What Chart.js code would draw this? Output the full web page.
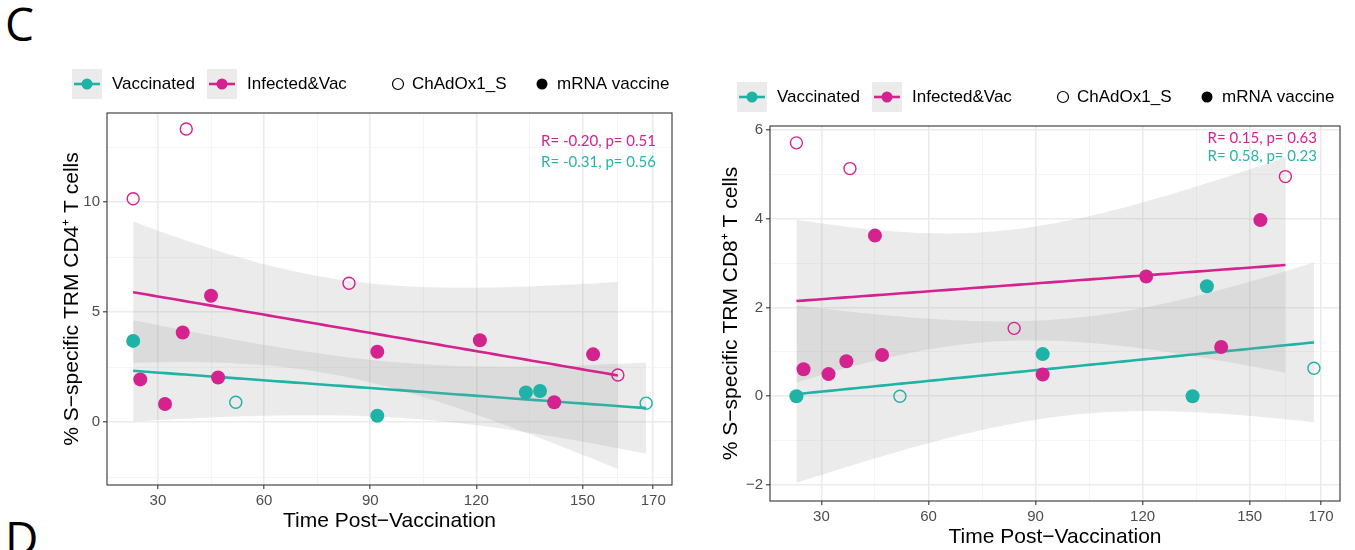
<!DOCTYPE html>
<html lang="en">
<head>
<meta charset="utf-8">
<title>S-specific TRM T cells vs time post-vaccination</title>
<script src="https://cdn.jsdelivr.net/npm/chart.js@4.4.1/dist/chart.umd.min.js"></script>
<style>
  body { margin: 0; background: #fff; width: 1355px; height: 550px; overflow: hidden; position: relative; }
  .letter { position: absolute; left: 5px; font: 46px "Open Sans", sans-serif; line-height: 1; color: #000; }
  canvas { position: absolute; top: 0; }
</style>
</head>
<body>
<div class="letter" style="top:0">C</div>
<div class="letter" style="top:514px">D</div>
<canvas id="cd4" width="690" height="550" style="left:0"></canvas>
<canvas id="cd8" width="665" height="560" style="left:690px"></canvas>
<script>
// values
const xBreaks = [30, 60, 90, 120, 150, 170];
const xMinor = [45, 75, 105, 135, 160];
const cd4Breaks = [0, 5, 10];
const cd4Minor = [-2.5, 2.5, 7.5, 12.5];
const cd8Breaks = [-2, 0, 2, 4, 6];
const cd8Minor = [-1, 1, 3, 5];

const vacDays = [23, 52, 92, 134, 138, 168];
const vacVaccine = ['mRNA', 'ChAdOx1_S', 'mRNA', 'mRNA', 'mRNA', 'ChAdOx1_S'];
const infDays = [23, 25, 32, 37, 38, 45, 47, 84, 92, 121, 142, 153, 160];
const infVaccine = ['ChAdOx1_S', 'mRNA', 'mRNA', 'mRNA', 'ChAdOx1_S', 'mRNA', 'mRNA',
                    'ChAdOx1_S', 'mRNA', 'mRNA', 'mRNA', 'mRNA', 'ChAdOx1_S'];

const cd4Vac = [3.69, 0.90, 0.29, 1.35, 1.41, 0.86];
const cd4Inf = [10.15, 1.94, 0.82, 4.07, 13.32, 5.74, 2.03, 6.31, 3.20, 3.72, 0.90, 3.08, 2.14];
const cd8Vac = [0.00, 0.00, 0.95, 0.00, 2.48, 0.63];
const cd8Inf = [5.71, 0.61, 0.50, 0.79, 5.13, 3.62, 0.93, 1.53, 0.49, 2.70, 1.11, 3.97, 4.95];

const cd4Stats = ['R= -0.20, p= 0.51', 'R= -0.31, p= 0.56'];
const cd8Stats = ['R= 0.15, p= 0.63', 'R= 0.58, p= 0.23'];

const groupNames = ['Vaccinated', 'Infected&Vac'];
const vaccineNames = ['ChAdOx1_S', 'mRNA vaccine'];

const TEAL = '#1fb2a6';
const MAGENTA = '#d4228f';
const BAND = 'rgba(153,153,153,0.2)';
const FONT = '"Liberation Sans", Arial, sans-serif';

// two-sided 95% t quantiles by df
const T975 = [0, 12.706, 4.303, 3.182, 2.776, 2.571, 2.447, 2.365, 2.306, 2.262, 2.228,
              2.201, 2.179, 2.160, 2.145, 2.131, 2.120, 2.110, 2.101, 2.093, 2.086];

// lm fit with 95% confidence band, like geom_smooth(method = "lm")
function smooth(xs, ys, steps) {
  const n = xs.length;
  const mx = xs.reduce((a, b) => a + b, 0) / n;
  const my = ys.reduce((a, b) => a + b, 0) / n;
  let sxx = 0, sxy = 0;
  xs.forEach((x, i) => { sxx += (x - mx) ** 2; sxy += (x - mx) * (ys[i] - my); });
  const b = sxy / sxx, a = my - b * mx;
  let sse = 0;
  xs.forEach((x, i) => { const r = ys[i] - (a + b * x); sse += r * r; });
  const s = Math.sqrt(sse / (n - 2)), t = T975[n - 2];
  const lo = Math.min(...xs), hi = Math.max(...xs);
  const fit = [], up = [], low = [];
  for (let k = 0; k < steps; k++) {
    const x = lo + (hi - lo) * k / (steps - 1);
    const y = a + b * x;
    const h = t * s * Math.sqrt(1 / n + (x - mx) ** 2 / sxx);
    fit.push({x, y}); up.push({x, y: y + h}); low.push({x, y: y - h});
  }
  return {fit, up, low};
}

function pointsOf(days, vals, vac) {
  return days.map((d, i) => ({x: d, y: vals[i], v: vac[i]}));
}

function isOpen(c) { return c.raw && c.raw.v === 'ChAdOx1_S'; }

function scatterSet(data, color) {
  return {
    type: 'scatter', data, order: 0,
    pointRadius: c => isOpen(c) ? 6 : 7,
    pointBackgroundColor: c => isOpen(c) ? 'rgba(0,0,0,0)' : color,
    pointBorderColor: color,
    pointBorderWidth: c => isOpen(c) ? 1.4 : 0
  };
}

function smoothSets(sm, color, order) {
  const base = {type: 'line', pointRadius: 0, borderWidth: 0, borderColor: 'rgba(0,0,0,0)', order};
  return [
    Object.assign({}, base, {data: sm.up}),
    Object.assign({}, base, {data: sm.low, fill: {target: '-1'}, backgroundColor: BAND}),
    {type: 'line', data: sm.fit, pointRadius: 0, borderWidth: 2.6, borderColor: color, order: order - 1}
  ];
}

// panel frame, correlation labels and the ggplot-style legend
const decor = {
  id: 'decor',
  afterDraw(chart, args, o) {
    const {ctx, chartArea: a} = chart;
    ctx.save();
    ctx.strokeStyle = '#333';
    ctx.lineWidth = 1.1;
    ctx.strokeRect(a.left, a.top, a.right - a.left, a.bottom - a.top);

    ctx.font = '15px Lato, sans-serif';
    ctx.textAlign = 'right';
    ctx.textBaseline = 'middle';
    ctx.fillStyle = MAGENTA;
    ctx.fillText(o.stats[0], a.right - o.statsRight, a.top + o.statsTop);
    ctx.fillStyle = '#2ab3a7';
    ctx.fillText(o.stats[1], a.right - o.statsRight, a.top + o.statsTop + o.statsGap);

    const x0 = o.legendX, yc = o.legendY;
    ctx.font = '17px ' + FONT;
    ctx.textAlign = 'left';
    ctx.fillStyle = '#000';
    [TEAL, MAGENTA].forEach((col, i) => {
      const kx = x0 + i * 135;
      ctx.fillStyle = '#ebebeb';
      ctx.fillRect(kx, yc - 15, 30, 30);
      ctx.strokeStyle = col;
      ctx.lineWidth = 2.6;
      ctx.beginPath(); ctx.moveTo(kx + 2, yc); ctx.lineTo(kx + 28, yc); ctx.stroke();
      ctx.fillStyle = col;
      ctx.beginPath(); ctx.arc(kx + 15, yc, 5.5, 0, Math.PI * 2); ctx.fill();
      ctx.fillStyle = '#000';
      ctx.fillText(groupNames[i], kx + 40, yc);
    });
    ctx.strokeStyle = '#000';
    ctx.lineWidth = 1.2;
    ctx.beginPath(); ctx.arc(x0 + 326, yc, 5.5, 0, Math.PI * 2); ctx.stroke();
    ctx.fillText(vaccineNames[0], x0 + 340, yc);
    ctx.beginPath(); ctx.arc(x0 + 470, yc, 5.5, 0, Math.PI * 2); ctx.fill();
    ctx.fillText(vaccineNames[1], x0 + 485, yc);
    ctx.restore();
  }
};

function axis(breaks, minor, min, max, title, fit) {
  const all = breaks.concat(minor).sort((p, q) => p - q);
  const major = c => breaks.includes(c.tick.value);
  return {
    type: 'linear', min, max,
    afterBuildTicks: s => { s.ticks = all.map(v => ({value: v})); },
    afterFit: fit,
    ticks: {
      autoSkip: false, maxRotation: 0, padding: 3, color: '#4d4d4d',
      font: {family: FONT, size: 15},
      callback: v => breaks.includes(v) ? String(v).replace('-', '\u2212') : ''
    },
    grid: {
      color: c => major(c) ? '#ebebeb' : '#f3f3f3',
      lineWidth: c => major(c) ? 1.6 : 0.8,
      tickColor: c => major(c) ? '#333' : 'rgba(0,0,0,0)',
      tickLength: 4, tickWidth: 1.1
    },
    border: {display: false},
    title: {display: true, text: title, color: '#000', font: {family: FONT, size: 21}, padding: 0}
  };
}

function makeChart(id, vacVals, infVals, yBreaks, yMinor, yMin, yMax, yTitle, lay, deco) {
  const vacSm = smooth(vacDays, vacVals, 80);
  const infSm = smooth(infDays, infVals, 80);
  const datasets = [].concat(
    smoothSets(vacSm, TEAL, 8),
    smoothSets(infSm, MAGENTA, 5),
    [scatterSet(pointsOf(vacDays, vacVals, vacVaccine), TEAL),
     scatterSet(pointsOf(infDays, infVals, infVaccine), MAGENTA)]
  );
  return new Chart(document.getElementById(id), {
    type: 'scatter',
    data: {datasets},
    options: {
      responsive: false, animation: false, events: [],
      layout: {padding: lay.padding},
      scales: {
        x: axis(xBreaks, xMinor, 15.6, 175.3, 'Time Post\u2212Vaccination', s => { s.height = lay.xh; }),
        y: axis(yBreaks, yMinor, yMin, yMax, yTitle, s => { s.width = lay.yw; })
      },
      plugins: {legend: {display: false}, tooltip: {enabled: false}, decor: deco}
    },
    plugins: [decor]
  });
}

makeChart('cd4', cd4Vac, cd4Inf, cd4Breaks, cd4Minor, -2.86, 14.05,
  '% S\u2212specific TRM CD4\u207A T cells',
  {padding: {left: 59.4, right: 18, top: 113, bottom: 16.4}, yw: 47.6, xh: 48.6},
  {stats: cd4Stats, statsRight: 16, statsTop: 28, statsGap: 21, legendX: 72, legendY: 84});

makeChart('cd8', cd8Vac, cd8Inf, cd8Breaks, cd8Minor, -2.36, 6.09,
  '% S\u2212specific TRM CD8\u207A T cells',
  {padding: {left: 28.4, right: 15, top: 126, bottom: 10.4}, yw: 51.6, xh: 48.6},
  {stats: cd8Stats, statsRight: 23, statsTop: 12, statsGap: 18, legendX: 47, legendY: 97});
</script>
</body>
</html>
